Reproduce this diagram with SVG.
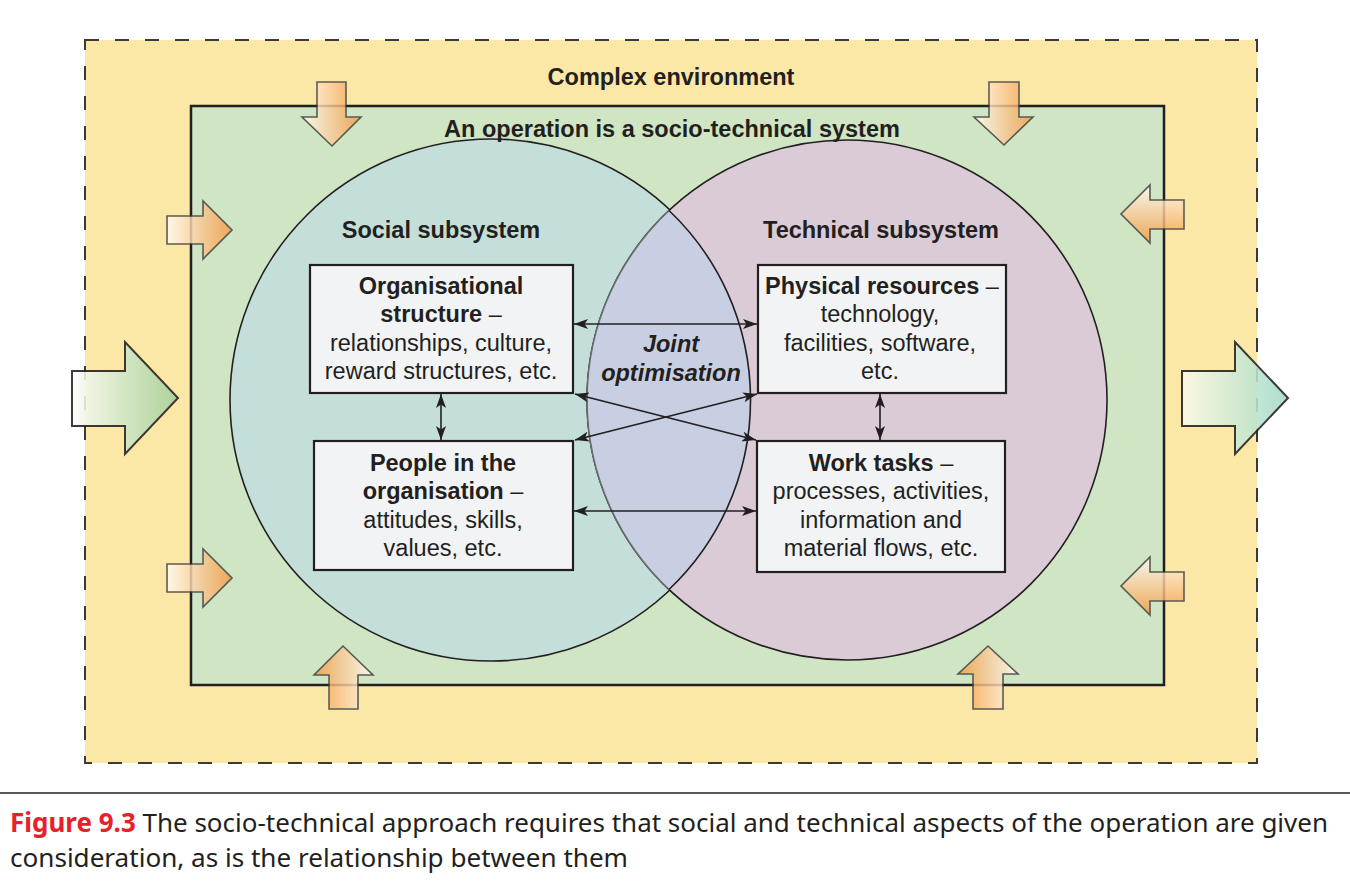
<svg xmlns="http://www.w3.org/2000/svg" width="1350" height="886" viewBox="0 0 1350 886">
<defs>
<style>
.hdr{font-family:"Liberation Sans",Arial,sans-serif;font-weight:bold;font-size:23.5px;fill:#231f20;text-anchor:middle}
.bx{font-family:"Liberation Sans",Arial,sans-serif;font-size:23.5px;fill:#231f20;text-anchor:middle}
.b{font-weight:bold}
.box{fill:#f1f3f5;stroke:#231f20;stroke-width:2.2}
.con{stroke:#231f20;stroke-width:1.6;fill:none;marker-start:url(#ah);marker-end:url(#ah)}
.oa{stroke:#3c3c3c;stroke-width:1.6;opacity:0.82}
.ga{stroke:#231f20;stroke-width:2;opacity:0.88}
.cap{font-family:"Noto Sans","Open Sans",sans-serif;font-size:26px;fill:#231f20}
</style>
<marker id="ah" viewBox="0 0 14 10" markerWidth="14" markerHeight="10" refX="14" refY="5" orient="auto-start-reverse" markerUnits="userSpaceOnUse">
<path d="M0,0 L14,5 L0,10 L3.5,5 Z" fill="#231f20"/>
</marker>
<linearGradient id="oH" x1="0" y1="0" x2="1" y2="0"><stop offset="0" stop-color="#fffcf4"/><stop offset="1" stop-color="#f49a3e"/></linearGradient>
<linearGradient id="oHr" x1="0" y1="0" x2="1" y2="0"><stop offset="0" stop-color="#f49a3e"/><stop offset="1" stop-color="#fffcf4"/></linearGradient>
<linearGradient id="oV" x1="0" y1="0" x2="0" y2="1"><stop offset="0" stop-color="#fffcf4"/><stop offset="1" stop-color="#f49a3e"/></linearGradient>
<linearGradient id="gL" x1="0" y1="0" x2="1" y2="0"><stop offset="0" stop-color="#fcfdf8"/><stop offset="1" stop-color="#a3cf98"/></linearGradient>
<linearGradient id="gR" x1="0" y1="0" x2="1" y2="0"><stop offset="0" stop-color="#fcfbeb"/><stop offset="1" stop-color="#a2dac4"/></linearGradient>
</defs>

<g id="environment">
<rect x="85" y="40" width="1172" height="723" fill="#fbe7a6" stroke="#3a3a3a" stroke-width="2" stroke-dasharray="14,16"/>
<text class="hdr" x="671" y="85">Complex environment</text>
</g>

<g id="operation">
<rect x="191" y="106" width="973" height="579" fill="#cfe5c4" stroke="#231f20" stroke-width="2.5"/>
</g>

<g id="subsystems">
<circle id="social-circle" cx="491" cy="400" r="261" fill="#c4dfda" stroke="#231f20" stroke-width="1.6"/>
<circle id="technical-circle" cx="847" cy="400" r="260" fill="#dacbd7" stroke="#231f20" stroke-width="1.6"/>
<path d="M669,210.5 A260,260 0 0,0 669,589.5 A261,261 0 0,0 669,210.5 Z" fill="#c8cfe2"/>
<path d="M669,210.5 A260,260 0 0,0 669,589.5" fill="none" stroke="#6b6b6b" stroke-width="1.6"/>
<path d="M669,589.5 A261,261 0 0,0 669,210.5" fill="none" stroke="#231f20" stroke-width="1.6"/>
</g>

<g id="operation-label"><text class="hdr" x="672" y="137">An operation is a socio-technical system</text></g>
<g id="social-label"><text class="hdr" x="441" y="238">Social subsystem</text></g>
<g id="technical-label"><text class="hdr" x="881" y="238">Technical subsystem</text></g>

<g id="joint-optimisation">
<text class="hdr" font-style="italic" x="671" y="352">Joint</text>
<text class="hdr" font-style="italic" x="671" y="381">optimisation</text>
</g>

<g id="organisational-structure">
<rect class="box" x="310" y="265" width="263" height="128"/>
<text class="bx" x="441" y="294"><tspan class="b">Organisational</tspan></text>
<text class="bx" x="441" y="322"><tspan class="b">structure</tspan> –</text>
<text class="bx" x="441" y="351">relationships, culture,</text>
<text class="bx" x="441" y="379">reward structures, etc.</text>
</g>

<g id="people">
<rect class="box" x="314" y="441" width="259" height="129"/>
<text class="bx" x="443" y="471"><tspan class="b">People in the</tspan></text>
<text class="bx" x="443" y="499"><tspan class="b">organisation</tspan> –</text>
<text class="bx" x="443" y="528">attitudes, skills,</text>
<text class="bx" x="443" y="556">values, etc.</text>
</g>

<g id="physical-resources">
<rect class="box" x="758" y="265" width="248" height="128"/>
<text class="bx" x="882" y="294"><tspan class="b">Physical resources</tspan> –</text>
<text class="bx" x="880" y="322">technology,</text>
<text class="bx" x="880" y="351">facilities, software,</text>
<text class="bx" x="880" y="379">etc.</text>
</g>

<g id="work-tasks">
<rect class="box" x="757" y="441" width="248" height="131"/>
<text class="bx" x="881" y="471"><tspan class="b">Work tasks</tspan> –</text>
<text class="bx" x="881" y="499">processes, activities,</text>
<text class="bx" x="881" y="528">information and</text>
<text class="bx" x="881" y="556">material flows, etc.</text>
</g>

<g id="connectors">
<line class="con" x1="574" y1="324" x2="757" y2="324"/>
<line class="con" x1="574" y1="511" x2="756" y2="511"/>
<line class="con" x1="575" y1="394" x2="756" y2="440"/>
<line class="con" x1="575" y1="440" x2="757" y2="394"/>
<line class="con" x1="441" y1="394" x2="441" y2="440"/>
<line class="con" x1="880" y1="394" x2="880" y2="440"/>
</g>

<g id="influence-arrows">
<path class="oa" fill="url(#oH)" d="M317,82 H346 V117 H361 L332,146 L302,117 H317 Z"/>
<path class="oa" fill="url(#oH)" d="M989,82 H1019 V117 H1033 L1004,145 L974,117 H989 Z"/>
<path class="oa" fill="url(#oH)" d="M167,216 H203 V201 L232,230 L203,259 V244 H167 Z"/>
<path class="oa" fill="url(#oH)" d="M167,564 H203 V549 L232,578 L203,607 V592 H167 Z"/>
<path class="oa" fill="url(#oV)" d="M1184,200 V229 H1150 V243 L1121,214 L1150,185 V200 Z"/>
<path class="oa" fill="url(#oV)" d="M1184,572 V601 H1150 V615 L1121,586 L1150,557 V572 Z"/>
<path class="oa" fill="url(#oHr)" d="M329,709 V675 H314 L343,646 L373,675 H358 V709 Z"/>
<path class="oa" fill="url(#oHr)" d="M973,709 V674 H958 L988,646 L1018,674 H1003 V709 Z"/>
</g>

<g id="input-arrow">
<path class="ga" fill="url(#gL)" d="M72,371 H125 V342 L178,398 L125,454 V426 H72 Z"/>
</g>
<g id="output-arrow">
<path class="ga" fill="url(#gR)" d="M1182,371 H1235 V342 L1288,398 L1235,454 V426 H1182 Z"/>
</g>

<g id="caption">
<line x1="0" y1="793" x2="1350" y2="793" stroke="#231f20" stroke-width="1.5"/>
<text class="cap" x="10" y="832" textLength="1318" lengthAdjust="spacingAndGlyphs"><tspan fill="#e8202a" font-weight="bold">Figure 9.3</tspan>  The socio-technical approach requires that social and technical aspects of the operation are given</text>
<text class="cap" x="10" y="867" textLength="618" lengthAdjust="spacingAndGlyphs">consideration, as is the relationship between them</text>
</g>
</svg>
